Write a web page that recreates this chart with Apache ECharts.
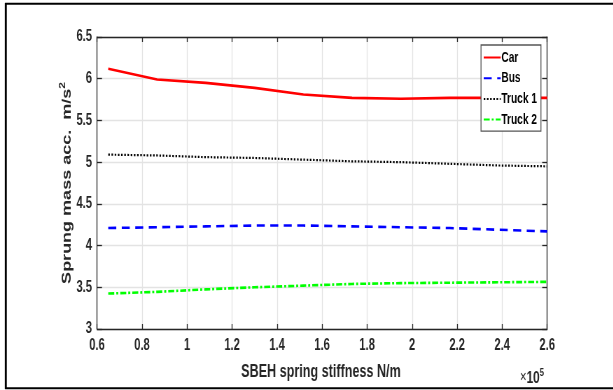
<!DOCTYPE html>
<html>
<head>
<meta charset="utf-8">
<script src="https://cdn.jsdelivr.net/npm/echarts@6/dist/echarts.min.js"></script>
<style>
  html, body { margin: 0; padding: 0; background: #fff; overflow: hidden; }
  /* the figure uses narrow lettering: draw it wider, then squeeze it horizontally */
  #chart { width: 876px; height: 390px; transform: scaleX(0.7); transform-origin: 0 0; }
</style>
</head>
<body>
<div id="chart"></div>
<script>
// SBEH spring stiffness (N/m)
const stiffness = [65000, 86700, 108300, 130000, 151700, 173300, 195000, 216700, 238300, 260000];
// Sprung mass acceleration (m/s^2) per vehicle
const car    = [6.12, 5.99, 5.95, 5.89, 5.81, 5.77, 5.76, 5.77, 5.77, 5.77];
const bus    = [4.21, 4.22, 4.23, 4.24, 4.24, 4.23, 4.22, 4.21, 4.19, 4.17];
const truck1 = [5.09, 5.08, 5.06, 5.05, 5.03, 5.01, 5.00, 4.98, 4.96, 4.95];
const truck2 = [3.425, 3.445, 3.475, 3.50, 3.52, 3.54, 3.55, 3.555, 3.56, 3.565];
const seriesNames = ['Car', 'Bus', 'Truck 1', 'Truck 2'];
const xTickStep = 20000;
const yTickStep = 0.5;

const SX = 0.7; // horizontal squeeze applied by CSS
const px = v => v / SX; // horizontal length in the unsqueezed drawing space
const FONT = "'Liberation Sans', Arial, sans-serif";
const INK = '#262626';
const pair = (xs, ys) => xs.map((x, i) => [x, ys[i]]);

const chart = echarts.init(document.getElementById('chart'), null, { renderer: 'canvas' });

const gridLine = { show: true, lineStyle: { color: '#e3e3e3', width: 1.3 } };
const axisLine = { show: true, onZero: false, lineStyle: { color: INK, width: 1.3 } };
const tickIn = { show: true, inside: true, length: 5, lineStyle: { color: INK, width: 1.3 } };
const tickLabel = { color: INK, fontFamily: FONT, fontWeight: 'bold', fontSize: 16 };

chart.setOption({
  animation: false,
  backgroundColor: '#fff',
  grid: { left: px(97), right: px(66), top: 37, bottom: 61, containLabel: false },
  xAxis: [
    {
      type: 'value', min: 60000, max: 260000, interval: xTickStep, position: 'bottom',
      axisLine, axisTick: tickIn, splitLine: gridLine,
      axisLabel: Object.assign({ margin: 9, formatter: v => String(+(v / 1e5).toFixed(1)) }, tickLabel)
    },
    {
      type: 'value', min: 60000, max: 260000, interval: xTickStep, position: 'top',
      axisLine, axisTick: tickIn, splitLine: { show: false }, axisLabel: { show: false }
    }
  ],
  yAxis: [
    {
      type: 'value', min: 3, max: 6.5, interval: yTickStep, position: 'left',
      axisLine, axisTick: Object.assign({}, tickIn, { length: px(5) }), splitLine: gridLine,
      axisLabel: Object.assign({ margin: px(5), formatter: v => String(+v.toFixed(1)) }, tickLabel)
    },
    {
      type: 'value', min: 3, max: 6.5, interval: yTickStep, position: 'right',
      axisLine, axisTick: Object.assign({}, tickIn, { length: px(5) }), splitLine: { show: false }, axisLabel: { show: false }
    }
  ],
  legend: {
    orient: 'vertical',
    left: px(481), top: 45,
    width: px(61),
    backgroundColor: '#fff',
    borderColor: '#555', borderWidth: 1.3,
    padding: [5, px(4), 4, px(2)],
    itemGap: 5.7,
    itemWidth: px(17), itemHeight: 14,
    itemStyle: { opacity: 0, borderWidth: 0 },
    textStyle: { color: '#000', fontFamily: FONT, fontWeight: 'bold', fontSize: 14.5, padding: [0, 0, 0, -4] },
    data: seriesNames
  },
  series: [
    { name: 'Car', type: 'line', data: pair(stiffness, car), showSymbol: false, symbol: 'none',
      lineStyle: { color: '#ff0000', width: 2.6, type: 'solid' }, itemStyle: { color: '#ff0000' } },
    { name: 'Bus', type: 'line', data: pair(stiffness, bus), showSymbol: false, symbol: 'none',
      lineStyle: { color: '#0000ff', width: 2.6, type: [px(8), px(5.5)] }, itemStyle: { color: '#0000ff' } },
    { name: 'Truck 1', type: 'line', data: pair(stiffness, truck1), showSymbol: false, symbol: 'none',
      lineStyle: { color: '#000000', width: 2.2, type: [px(1.6), px(1.6)] }, itemStyle: { color: '#000000' } },
    { name: 'Truck 2', type: 'line', data: pair(stiffness, truck2), showSymbol: false, symbol: 'none',
      lineStyle: { color: '#00ff00', width: 2.6, type: [px(6), px(2), px(2), px(2)] }, itemStyle: { color: '#00ff00' } }
  ],
  graphic: [
    // outer frame: left, top and bottom rules
    { type: 'line', shape: { x1: px(5.8), y1: 3, x2: px(5.8), y2: 389 }, silent: true,
      style: { stroke: '#000', lineWidth: px(2) } },
    { type: 'line', shape: { x1: px(5), y1: 3.8, x2: 900, y2: 3.8 }, silent: true,
      style: { stroke: '#000', lineWidth: 2 } },
    { type: 'line', shape: { x1: px(5), y1: 388.2, x2: 900, y2: 388.2 }, silent: true,
      style: { stroke: '#000', lineWidth: 2 } },
    // y-axis title
    { type: 'text', x: px(67), y: 183, rotation: Math.PI / 2,
      style: {
        text: '{n|Sprung mass acc.  m/s}{s|2}',
        align: 'center', verticalAlign: 'middle',
        rich: {
          n: { fontFamily: FONT, fontWeight: 'bold', fontSize: 18, fill: INK },
          s: { fontFamily: FONT, fontWeight: 'bold', fontSize: 12, fill: INK, padding: [0, 0, 12, 0] }
        }
      } },
    // x-axis title
    { type: 'text', x: px(321), y: 372,
      style: { text: 'SBEH spring stiffness N/m', align: 'center', verticalAlign: 'middle',
        fontFamily: FONT, fontWeight: 'bold', fontSize: 18, fill: INK } },
    // exponent marker
    { type: 'text', x: px(532), y: 378,
      style: { text: '{m|×}{n|10}{s|5}', align: 'center', verticalAlign: 'middle',
        rich: {
          m: { fontFamily: FONT, fontSize: 16, fill: INK },
          n: { fontFamily: FONT, fontWeight: 'bold', fontSize: 17, fill: INK },
          s: { fontFamily: FONT, fontWeight: 'bold', fontSize: 11, fill: INK, padding: [0, 0, 10, 0] }
        } } }
  ]
});
</script>
</body>
</html>
